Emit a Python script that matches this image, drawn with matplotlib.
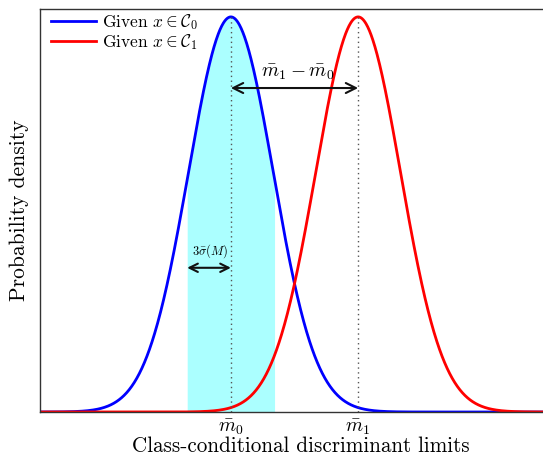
import numpy as np
import matplotlib
matplotlib.use("Agg")
import matplotlib.pyplot as plt

# data
means = [0.0, 3.0]
sigma = 1.0
series_labels = [r"Given $x \in \mathcal{C}_0$", r"Given $x \in \mathcal{C}_1$"]
series_colors = ["blue", "red"]
tick_labels = [r"$\bar{m}_0$", r"$\bar{m}_1$"]
shade_halfwidth = 1.03
xlim = (-4.5, 7.5)

plt.rcParams["mathtext.fontset"] = "cm"
plt.rcParams["font.family"] = ["cmr10", "DejaVu Serif"]
plt.rcParams["axes.unicode_minus"] = False

fig = plt.figure(figsize=(5.43, 4.57), dpi=100)
ax = fig.add_axes([40/543, 1-412/457, (549-40)/543, (412-9)/457])

x = np.linspace(xlim[0], xlim[1], 1200)
def pdf(x, m):
    return np.exp(-0.5*((x-m)/sigma)**2)/(sigma*np.sqrt(2*np.pi))
peak = pdf(0, 0)

xs = np.linspace(means[0]-shade_halfwidth, means[0]+shade_halfwidth, 300)
ax.fill_between(xs, 0, pdf(xs, means[0]), color="cyan", alpha=0.33, lw=0)
for m, lab, c in zip(means, series_labels, series_colors):
    ax.plot(x, pdf(x, m), color=c, lw=2, label=lab)
for m in means:
    ax.plot([m, m], [0, peak], ls=(0, (1, 2.5)), color="#555555", lw=1)

ax.set_xlim(*xlim)
ax.set_ylim(0, peak*1.02)
ax.set_xticks(means)
ax.set_xticklabels(tick_labels, fontsize=14)
ax.set_yticks([])
ax.tick_params(axis="x", length=0, pad=4)
for s in ["left", "top", "bottom", "right"]:
    ax.spines[s].set_color("#333333")
    ax.spines[s].set_linewidth(1.0)

ax.annotate("", xy=(means[1], peak*0.82), xytext=(means[0], peak*0.82),
            arrowprops=dict(arrowstyle="<->", color="#111111", lw=1.5, mutation_scale=18,
                            shrinkA=0, shrinkB=0))
ax.text((means[0]+means[1])/2 + 0.08, peak*0.835, r"$\bar{m}_1 - \bar{m}_0$", ha="center", va="bottom", fontsize=14)

ax.annotate("", xy=(means[0]-shade_halfwidth, peak*0.365), xytext=(means[0], peak*0.365),
            arrowprops=dict(arrowstyle="<->", color="#111111", lw=1.5, mutation_scale=15,
                            shrinkA=0, shrinkB=0))
ax.text(means[0]-shade_halfwidth/2 + 0.03, peak*0.385, r"$3\bar{\sigma}(M)$", ha="center", va="bottom", fontsize=9)

ax.set_xlabel("Class-conditional discriminant limits", fontsize=15.2, labelpad=0)
ax.xaxis.set_label_coords(0.513, -0.109)
ax.xaxis.label.set_va("bottom")
ax.set_ylabel("Probability density", fontsize=15.5, labelpad=8)

ax.legend(loc="upper left", frameon=False, fontsize=12.5, handlelength=2.6,
          borderaxespad=0.0, borderpad=0.2, handletextpad=0.35, labelspacing=0.0,
          bbox_to_anchor=(0.014, 1.0))

fig.savefig("out.png", dpi=100)
